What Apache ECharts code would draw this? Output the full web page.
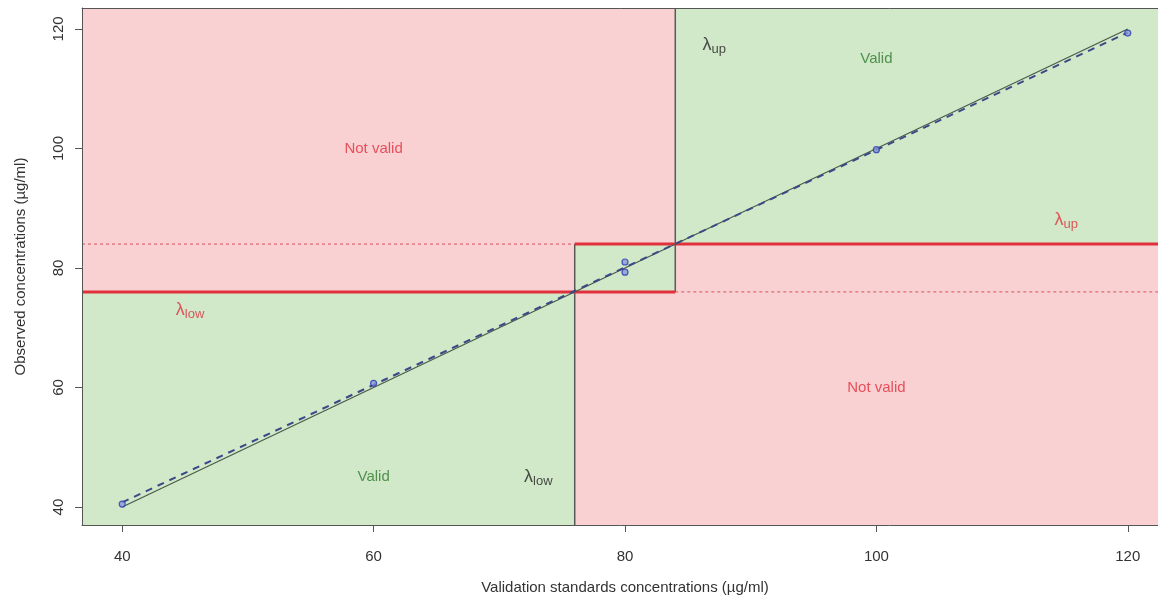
<!DOCTYPE html>
<html><head><meta charset="utf-8">
<script src="https://cdn.jsdelivr.net/npm/echarts@6/dist/echarts.min.js"></script>
<style>html,body{margin:0;padding:0;background:#fff}#c{width:1158px;height:601px}</style>
</head><body><div id="c"></div>
<script>
// ---- data ----
const xTicks = [40, 60, 80, 100, 120];
const yTicks = [40, 60, 80, 100, 120];
const xRange = [36.8, 123.2];
const yRange = [37.0, 123.5];
const lambdaLow = 76;
const lambdaUp = 84;
const standards = [40, 60, 80, 80, 100, 120];
const observed = [40.5, 60.7, 81.0, 79.3, 99.8, 119.3];
const identityLine = [[40, 40], [120, 120]];
const fitLine = [[40, 40.8], [120, 119.4]];
const notValidLabels = [[60, 100], [100, 60]];
const validLabels = [[60, 45], [100, 115]];
const lambdaBlack = [[73.1, 45, 'low'], [87.1, 117.3, 'up']];
const lambdaRed = [[45.4, 73, 'low'], [115.1, 88, 'up']];

const GREEN = '#d1e8c9', RED = '#f9d1d3';
const X0 = xRange[0], X1 = xRange[1], Y0 = yRange[0], Y1 = yRange[1];
const L = lambdaLow, U = lambdaUp;

// red regions first, green regions drawn on top
const areas = [
  [[X0, L], [U, Y1], RED],
  [[L, Y0], [X1, U], RED],
  [[X0, Y0], [L, L], GREEN],
  [[L, L], [U, U], GREEN],
  [[U, U], [X1, Y1], GREEN]
].map(a => [{coord: a[0], itemStyle: {color: a[2], opacity: 1}}, {coord: a[1]}]);

const chart = echarts.init(document.getElementById('c'), null, {renderer: 'canvas'});
const FONT = '"Liberation Sans", Arial, sans-serif';
const lamRich = (color) => ({
  a: {fontSize: 18, color: color, fontFamily: FONT},
  b: {fontSize: 13, color: color, fontFamily: FONT, padding: [9, 0, 0, 0]}
});

chart.setOption({
  animation: false,
  backgroundColor: '#fff',
  grid: {left: 82, top: 8, width: 1086, height: 517, show: false, outerBoundsMode: 'none', containLabel: false},
  xAxis: [{
    type: 'value', min: X0, max: X1, z: 10,
    name: 'Validation standards concentrations (µg/ml)', nameLocation: 'middle', nameGap: 55,
    nameTextStyle: {fontSize: 15, color: '#333', fontFamily: FONT},
    splitLine: {show: false},
    axisLine: {show: true, onZero: false, lineStyle: {color: '#555', width: 1}},
    axisTick: {show: true, length: 7, customValues: xTicks, lineStyle: {color: '#555'}},
    axisLabel: {customValues: xTicks, fontSize: 15, color: '#333', fontFamily: FONT, margin: 24}
  }, {
    type: 'value', min: X0, max: X1, position: 'top', z: 10,
    splitLine: {show: false}, axisTick: {show: false}, axisLabel: {show: false},
    axisLine: {show: true, onZero: false, lineStyle: {color: '#555', width: 1}}
  }],
  yAxis: [{
    type: 'value', min: Y0, max: Y1, z: 10,
    name: 'Observed concentrations (µg/ml)', nameLocation: 'middle', nameGap: 54, nameRotate: 90,
    nameTextStyle: {fontSize: 15, color: '#333', fontFamily: FONT},
    splitLine: {show: false},
    axisLine: {show: true, onZero: false, lineStyle: {color: '#555', width: 1}},
    axisTick: {show: true, length: 7, customValues: yTicks, lineStyle: {color: '#555'}},
    axisLabel: {customValues: yTicks, rotate: 90, fontSize: 15, color: '#333', fontFamily: FONT, margin: 16}
  }],
  series: [
    {
      type: 'line', data: [], z: 1,
      markArea: {silent: true, data: areas}
    },
    { type: 'line', data: [[X0, U], [L, U]], symbol: 'none', z: 3,
      lineStyle: {color: '#d9505a', width: 1, type: [3, 3]} },
    { type: 'line', data: [[U, L], [X1, L]], symbol: 'none', z: 3,
      lineStyle: {color: '#d9505a', width: 1, type: [3, 3]} },
    { type: 'line', data: [[L, Y0], [L, U]], symbol: 'none', z: 3,
      lineStyle: {color: '#5a5a5a', width: 1.5} },
    { type: 'line', data: [[U, L], [U, Y1]], symbol: 'none', z: 3,
      lineStyle: {color: '#5a5a5a', width: 1.5} },
    { type: 'line', data: [[X0, L], [U, L]], symbol: 'none', z: 4,
      lineStyle: {color: '#e0303c', width: 3} },
    { type: 'line', data: [[L, U], [X1, U]], symbol: 'none', z: 4,
      lineStyle: {color: '#e0303c', width: 3} },
    { type: 'line', data: identityLine, symbol: 'none', z: 5,
      lineStyle: {color: '#4a5a4a', width: 1.2} },
    { type: 'line', data: fitLine, symbol: 'none', z: 5,
      lineStyle: {color: '#3a4a88', width: 2, type: [7, 6]} },
    { type: 'scatter', data: standards.map((x, i) => [x, observed[i]]), z: 6,
      symbol: 'circle', symbolSize: 6,
      itemStyle: {color: '#8a9ad8', borderColor: '#2a3ab0', borderWidth: 1.2} },
    { type: 'scatter', data: notValidLabels, symbolSize: 0, z: 7, silent: true,
      label: {show: true, position: 'inside', formatter: 'Not valid', fontSize: 15, color: '#e0303c', fontFamily: FONT} },
    { type: 'scatter', data: validLabels, symbolSize: 0, z: 7, silent: true,
      label: {show: true, position: 'inside', formatter: 'Valid', fontSize: 15, color: '#2e7a2e', fontFamily: FONT} },
    { type: 'scatter', data: lambdaBlack, symbolSize: 0, z: 7, silent: true,
      label: {show: true, position: 'inside', formatter: p => '{a|λ}{b|' + p.value[2] + '}', rich: lamRich('#222')} },
    { type: 'scatter', data: lambdaRed, symbolSize: 0, z: 7, silent: true,
      label: {show: true, position: 'inside', formatter: p => '{a|λ}{b|' + p.value[2] + '}', rich: lamRich('#e0303c')} }
  ]
});
</script></body></html>
